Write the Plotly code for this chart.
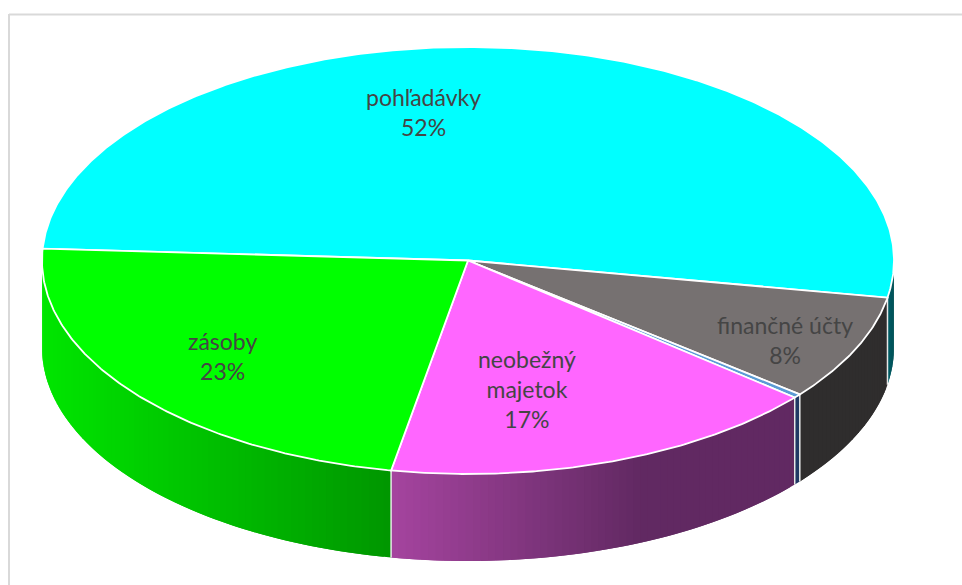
import math
import plotly.graph_objects as go

# ---- data ----
categories = ["pohľadávky", "finančné účty", "ostatné", "neobežný majetok", "zásoby"]
values = [51.9, 8.0, 0.3, 16.8, 23.0]
label_lines = ["pohľadávky<br>52%", "finančné účty<br>8%", None, "neobežný<br>majetok<br>17%", "zásoby<br>23%"]
top_colors = ["#00FFFF", "#767171", "#5B9BD5", "#FF66FF", "#00FF00"]
# side-wall gradient: colour at left edge of wall, colour at right edge
side_left = ["#006068", "#2F2D2D", "#1F3864", "#A5449F", "#00E600"]
side_right = ["#004F55", "#2F2D2D", "#1F3864", "#612962", "#009600"]
gradient_reach = [1, 1, 1, 0.62, 1]
label_anchor = [(423, 112), (785, 340), None, (527, 388.5), (222, 356)]

# ---- projection ----
CX, CY, A, B, DEPTH = 468, 260.5, 426, 213.5, 87
START = 273.2
def pt(t, drop=0.0):
    r = math.radians(t)
    return CX + A * math.sin(r), CY - B * math.cos(r) + drop

total = sum(values)
edges = [START]
for v in values:
    edges.append(edges[-1] + v / total * 360)

def hex2rgb(c):
    return [int(c[i:i + 2], 16) for i in (1, 3, 5)]
def mix(c1, c2, f):
    a, b = hex2rgb(c1), hex2rgb(c2)
    return "rgb(%d,%d,%d)" % tuple(round(a[i] + (b[i] - a[i]) * f) for i in range(3))

fig = go.Figure()
def poly(xs, ys, fill, line=None, w=0):
    fig.add_trace(go.Scatter(x=xs, y=ys, mode="lines", fill="toself", fillcolor=fill,
                             line=dict(color=line or fill, width=w),
                             hoverinfo="skip", showlegend=False))

# side walls (only front half is visible); each strip overlaps the next so no seams show
for i in range(len(values)):
    a0, a1 = edges[i], edges[i + 1]
    for shift in (-360, 0):
        lo = max(a0 + shift, 90)
        hi = min(a1 + shift, 270)
        if hi <= lo:
            continue
        n = max(1, int((hi - lo) / 1.0))
        xl, xr = pt(hi)[0], pt(lo)[0]
        step = (hi - lo) / n
        for k in range(n):
            t0 = lo + step * k
            t1 = min(hi, t0 + step * 2)
            ts = [t0 + (t1 - t0) * j / 4 for j in range(5)]
            xs = [pt(t)[0] for t in ts] + [pt(t, DEPTH)[0] for t in reversed(ts)]
            ys = [pt(t)[1] for t in ts] + [pt(t, DEPTH)[1] for t in reversed(ts)]
            f = (pt(t0 + step / 2)[0] - xl) / max(xr - xl, 1)
            f = min(1.0, f / gradient_reach[i])
            poly(xs + xs[:1], ys + ys[:1], mix(side_left[i], side_right[i], f))

# white dividers on the wall
for e in edges:
    t = e % 360
    if 90 < t < 270:
        x0, y0 = pt(t)
        x1, y1 = pt(t, DEPTH)
        fig.add_trace(go.Scatter(x=[x0, x1], y=[y0, y1], mode="lines",
                                 line=dict(color="#E8E8E8", width=1.5),
                                 hoverinfo="skip", showlegend=False))

# top faces
for i in range(len(values)):
    n = max(2, int((edges[i + 1] - edges[i]) * 2))
    ts = [edges[i] + (edges[i + 1] - edges[i]) * j / n for j in range(n + 1)]
    xs = [CX] + [pt(t)[0] for t in ts] + [CX]
    ys = [CY] + [pt(t)[1] for t in ts] + [CY]
    poly(xs, ys, top_colors[i], "#FFFFFF", 1.8)

annotations = []
for lab, pos in zip(label_lines, label_anchor):
    if lab:
        annotations.append(dict(x=pos[0], y=pos[1], text=lab, showarrow=False,
                                xref="x", yref="y", xanchor="center", yanchor="middle",
                                font=dict(family="Lato, Carlito, sans-serif", size=23, color="#454545")))

fig.update_layout(
    width=962, height=585, margin=dict(l=0, r=0, t=0, b=0),
    paper_bgcolor="#FFFFFF", plot_bgcolor="#FFFFFF",
    xaxis=dict(range=[0, 962], visible=False, fixedrange=True),
    yaxis=dict(range=[585, 0], visible=False, fixedrange=True),
    annotations=annotations,
    shapes=[dict(type="line", x0=9, x1=9, y0=14, y1=585, line=dict(color="#D9D9D9", width=2), xref="x", yref="y"),
            dict(type="line", x0=9, x1=962, y0=14.5, y1=14.5, line=dict(color="#D9D9D9", width=2), xref="x", yref="y")],
    showlegend=False,
)
fig.write_html("out.html", config=dict(displayModeBar=False),
               post_script="document.body.style.margin='0';document.body.style.overflow='hidden';")
